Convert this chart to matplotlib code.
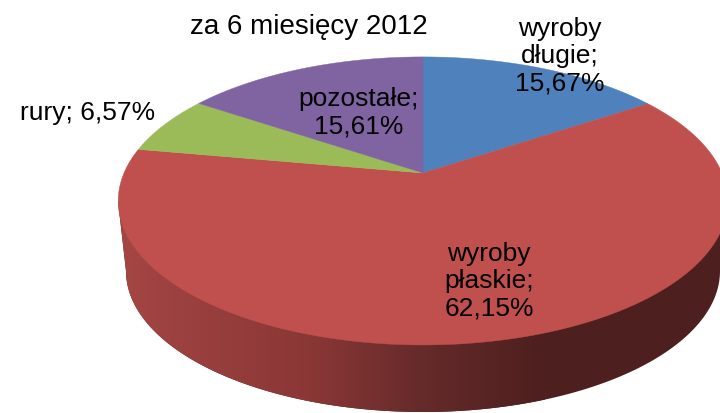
#!/usr/bin/env python3
import matplotlib
matplotlib.use("Agg")
import matplotlib.pyplot as plt
import numpy as np
from matplotlib.colors import LinearSegmentedColormap
from matplotlib.patches import Polygon

title = "za 6 miesięcy 2012"
names = ["wyroby\ndługie", "wyroby\npłaskie", "rury", "pozostałe"]
shares = [15.67, 62.15, 6.57, 15.61]
colors = ["#4F81BD", "#C0504D", "#9BBB59", "#8064A2"]

# pie geometry in picture pixels, tilted disc seen in perspective
APEX_X, APEX_Y = 423.0, 173.0
SCALE_X, SCALE_Y, PERSP = 299.0, 138.6, 0.194
DEPTH_CX, DEPTH_CY, DEPTH_RX, DEPTH_RY = 423.0, 271.0, 297.0, 141.0


def project(angle):
    # angle in radians, clockwise from the top of the pie
    x = np.sin(angle)
    y = np.cos(angle)
    w = 1.0 + PERSP * y
    return APEX_X + SCALE_X * x / w, APEX_Y - SCALE_Y * y / w


def rim(a0, a1):
    n = max(int(abs(a1 - a0) * 120), 2)
    return project(np.linspace(a0, a1, n))


fig = plt.figure(figsize=(7.2, 4.13), dpi=100)
ax = fig.add_axes([0, 0, 1, 1])
ax.set_xlim(0, 720)
ax.set_ylim(413, 0)
ax.axis("off")
plt.rcParams["font.family"] = ["Liberation Sans", "DejaVu Sans"]

# side wall with the dark shading towards the right
t = np.linspace(np.pi, 0, 200)
wall_x = DEPTH_CX + DEPTH_RX * np.cos(t)
wall_y = DEPTH_CY + DEPTH_RY * np.sin(t)
wall_x = np.r_[118, wall_x, 728]
wall_y = np.r_[201, wall_y, 201]
wall = Polygon(np.c_[wall_x, wall_y], closed=True, fc="none", ec="none")
ax.add_patch(wall)
shade = LinearSegmentedColormap.from_list(
    "wall", [(0.0, "#A44644"), (0.45, "#8A3736"), (0.72, "#652A2A"), (1.0, "#4D1F1E")])
img = ax.imshow(np.linspace(0, 1, 256)[None, :], cmap=shade, extent=[118, 545, 413, 190],
                aspect="auto", zorder=1)
img.set_clip_path(wall)
rest = Polygon(np.c_[wall_x, wall_y], closed=True, fc="#4D1F1E", ec="none", zorder=0.5)
ax.add_patch(rest)
ax.set_xlim(0, 720)
ax.set_ylim(413, 0)

# top face
fracs = np.cumsum([0.0] + shares) / sum(shares) * 2 * np.pi
for i, c in enumerate(colors):
    rx, ry = rim(fracs[i], fracs[i + 1])
    pts = np.c_[np.r_[APEX_X, rx], np.r_[APEX_Y, ry]]
    ax.add_patch(Polygon(pts, closed=True, fc=c, ec=c, lw=0.3, zorder=2))

label_pos = [(560, 56), (489, 281), (88, 113), (359, 113)]
for name, share, (lx, ly) in zip(names, shares, label_pos):
    sep = " " if name == "rury" else "\n"
    txt = f"{name};{sep}{share:.2f}%".replace(".", ",")
    ax.text(lx, ly, txt, ha="center", va="center", fontsize=19, color="black",
            linespacing=1.18, zorder=3)

ax.text(309, 27, title, ha="center", va="center", fontsize=20, color="black", zorder=3)

fig.savefig("out.png", dpi=100)
plt.close(fig)
